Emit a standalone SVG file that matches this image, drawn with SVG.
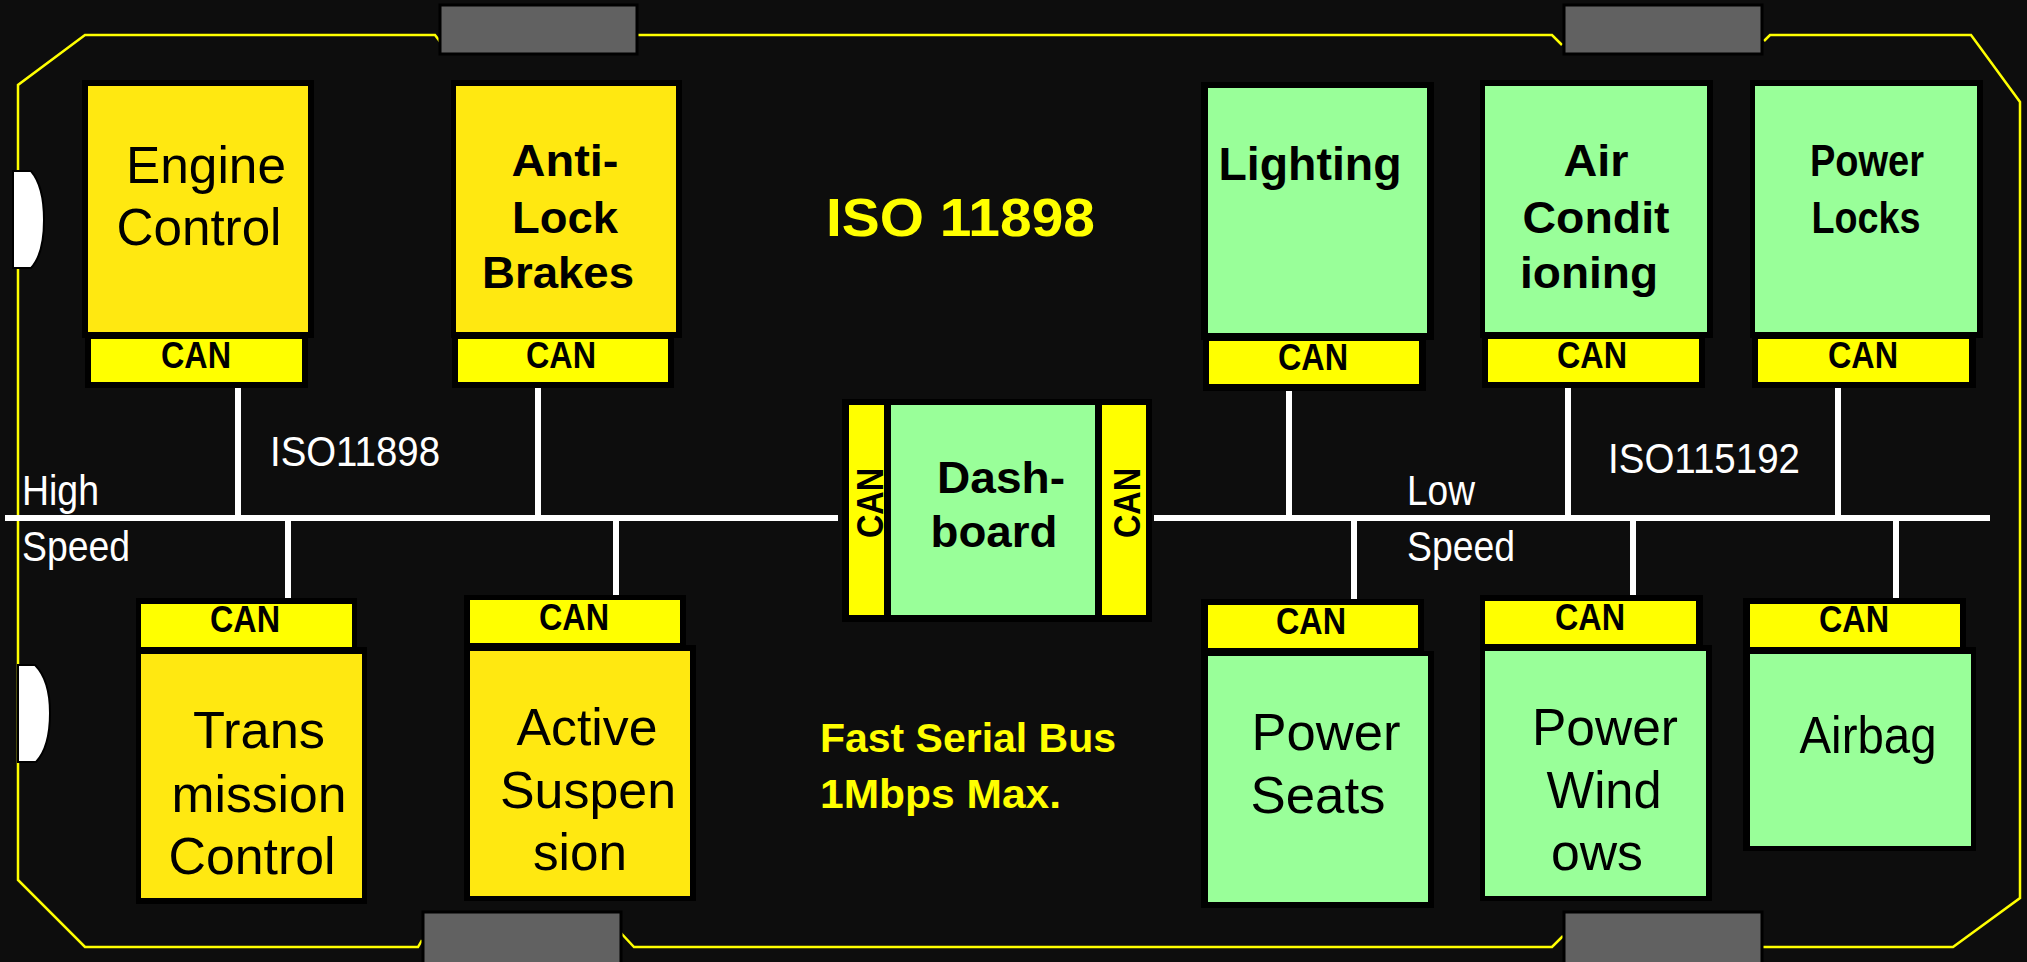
<svg xmlns="http://www.w3.org/2000/svg" width="2027" height="962" viewBox="0 0 2027 962">
<style>
.blk{fill:#000}
.yb{fill:#FFE811}
.gb{fill:#99FF99}
.can{fill:#FFFF00}
.t{font-family:"Liberation Sans",Arial,sans-serif;fill:#000;text-anchor:middle}
.b{font-weight:bold}
.r{font-size:52px}
.bt{font-size:45px}
.ct{font-family:"Liberation Sans",Arial,sans-serif;font-weight:bold;font-size:36px;fill:#000;text-anchor:middle}
.w{font-family:"Liberation Sans",Arial,sans-serif;fill:#fff;font-size:42px}
.y{font-family:"Liberation Sans",Arial,sans-serif;fill:#FFFF00;font-weight:bold}
.wire{stroke:#fff;stroke-width:6;fill:none}
.wheel{fill:#616161;stroke:#000;stroke-width:3}
.lamp{fill:#fff;stroke:#000;stroke-width:2}
</style>
<rect x="0" y="0" width="2027" height="962" fill="#0d0d0d"/>
<g id="car">
<path d="M441,43 L435,35 L85,35 L18,85 L18,880 L85,947 L418,947 L422,940 M620,932 L634,947 L1552,947 L1563,936 M1763,947 L1953,947 L2020,898 L2020,102 L1971,35 L1770,35 L1764,41 M1562,45 L1552,35 L638,35" fill="none" stroke="#FFFF00" stroke-width="2.5"/>
<rect class="wheel" x="440" y="5" width="197" height="49"/>
<rect class="wheel" x="1564" y="5" width="198" height="49"/>
<rect class="wheel" x="423" y="912" width="198" height="55"/>
<rect class="wheel" x="1564" y="912" width="198" height="55"/>
<path class="lamp" d="M13,171 L31,171 Q44,186 44,220 Q44,254 31,268 L13,268 Z"/>
<path class="lamp" d="M18,665 L35,665 Q50,680 50,713 Q50,747 36,762 L18,762 Z"/>
</g>
<g id="connectors">
<line class="wire" x1="5" y1="518" x2="838" y2="518"/>
<line class="wire" x1="1154" y1="518" x2="1990" y2="518"/>
<line class="wire" x1="238" y1="386" x2="238" y2="518"/>
<line class="wire" x1="538" y1="386" x2="538" y2="518"/>
<line class="wire" x1="1289" y1="388" x2="1289" y2="518"/>
<line class="wire" x1="1568" y1="386" x2="1568" y2="518"/>
<line class="wire" x1="1838" y1="386" x2="1838" y2="518"/>
<line class="wire" x1="288" y1="518" x2="288" y2="600"/>
<line class="wire" x1="616" y1="518" x2="616" y2="597"/>
<line class="wire" x1="1354" y1="518" x2="1354" y2="601"/>
<line class="wire" x1="1633" y1="518" x2="1633" y2="597"/>
<line class="wire" x1="1896" y1="518" x2="1896" y2="600"/>
</g>
<g id="labels">
<text class="y" x="826" y="236" font-size="54" textLength="269" lengthAdjust="spacingAndGlyphs">ISO 11898</text>
<text class="w" x="270" y="466" textLength="170" lengthAdjust="spacingAndGlyphs">ISO11898</text>
<text class="w" x="1608" y="473" textLength="192" lengthAdjust="spacingAndGlyphs">ISO115192</text>
<text class="w" x="22" y="505" font-size="40" textLength="77" lengthAdjust="spacingAndGlyphs">High</text>
<text class="w" x="22" y="561" font-size="40" textLength="108" lengthAdjust="spacingAndGlyphs">Speed</text>
<text class="w" x="1407" y="505" font-size="40" textLength="68" lengthAdjust="spacingAndGlyphs">Low</text>
<text class="w" x="1407" y="561" font-size="40" textLength="108" lengthAdjust="spacingAndGlyphs">Speed</text>
<text class="y" x="820" y="752" font-size="41" textLength="296" lengthAdjust="spacingAndGlyphs">Fast Serial Bus</text>
<text class="y" x="820" y="808" font-size="41" textLength="241" lengthAdjust="spacingAndGlyphs">1Mbps Max.</text>
</g>
<g id="engine-control">
<rect class="blk" x="82" y="80" width="232" height="258"/>
<rect class="yb" x="88" y="86" width="220" height="246"/>
<rect class="blk" x="85" y="335" width="223" height="53"/>
<rect class="can" x="91" y="339" width="211" height="43"/>
<text class="ct" x="196" y="368" textLength="70" lengthAdjust="spacingAndGlyphs">CAN</text>
<text class="t r" x="206" y="183" textLength="160" lengthAdjust="spacingAndGlyphs">Engine</text>
<text class="t r" x="199" y="245" textLength="165" lengthAdjust="spacingAndGlyphs">Control</text>
</g>
<g id="anti-lock-brakes">
<rect class="blk" x="451" y="80" width="231" height="258"/>
<rect class="yb" x="456" y="86" width="220" height="246"/>
<rect class="blk" x="452" y="335" width="222" height="53"/>
<rect class="can" x="458" y="339" width="210" height="43"/>
<text class="ct" x="561" y="368" textLength="70" lengthAdjust="spacingAndGlyphs">CAN</text>
<text class="t b bt" x="565" y="176" textLength="107" lengthAdjust="spacingAndGlyphs">Anti-</text>
<text class="t b bt" x="565" y="233" textLength="106" lengthAdjust="spacingAndGlyphs">Lock</text>
<text class="t b bt" x="558" y="288" textLength="152" lengthAdjust="spacingAndGlyphs">Brakes</text>
</g>
<g id="lighting">
<rect class="blk" x="1201" y="82" width="233" height="258"/>
<rect class="gb" x="1208" y="88" width="219" height="245"/>
<rect class="blk" x="1203" y="336" width="223" height="55"/>
<rect class="can" x="1209" y="341" width="210" height="43"/>
<text class="ct" x="1313" y="370" textLength="70" lengthAdjust="spacingAndGlyphs">CAN</text>
<text class="t b" x="1310" y="180" font-size="46" textLength="183" lengthAdjust="spacingAndGlyphs">Lighting</text>
</g>
<g id="air-conditioning">
<rect class="blk" x="1480" y="80" width="233" height="258"/>
<rect class="gb" x="1485" y="86" width="222" height="246"/>
<rect class="blk" x="1482" y="335" width="223" height="53"/>
<rect class="can" x="1488" y="339" width="211" height="43"/>
<text class="ct" x="1592" y="368" textLength="70" lengthAdjust="spacingAndGlyphs">CAN</text>
<text class="t b bt" x="1596" y="176" textLength="65" lengthAdjust="spacingAndGlyphs">Air</text>
<text class="t b bt" x="1596" y="233" textLength="147" lengthAdjust="spacingAndGlyphs">Condit</text>
<text class="t b bt" x="1589" y="288" textLength="138" lengthAdjust="spacingAndGlyphs">ioning</text>
</g>
<g id="power-locks">
<rect class="blk" x="1750" y="80" width="233" height="258"/>
<rect class="gb" x="1755" y="86" width="222" height="246"/>
<rect class="blk" x="1752" y="335" width="224" height="53"/>
<rect class="can" x="1758" y="339" width="211" height="43"/>
<text class="ct" x="1863" y="368" textLength="70" lengthAdjust="spacingAndGlyphs">CAN</text>
<text class="t b" x="1867" y="176" font-size="44" textLength="114" lengthAdjust="spacingAndGlyphs">Power</text>
<text class="t b" x="1866" y="233" font-size="44" textLength="109" lengthAdjust="spacingAndGlyphs">Locks</text>
</g>
<g id="dashboard">
<rect class="blk" x="842" y="399" width="310" height="223"/>
<rect class="can" x="849" y="405" width="35" height="210"/>
<rect class="gb" x="891" y="405" width="204" height="210"/>
<rect class="can" x="1102" y="405" width="44" height="210"/>
<text class="ct" transform="translate(883,503) rotate(-90)" x="0" y="0" font-size="38" textLength="70" lengthAdjust="spacingAndGlyphs">CAN</text>
<text class="ct" transform="translate(1140,503) rotate(-90)" x="0" y="0" font-size="38" textLength="70" lengthAdjust="spacingAndGlyphs">CAN</text>
<text class="t b bt" x="1001" y="493" textLength="128" lengthAdjust="spacingAndGlyphs">Dash-</text>
<text class="t b bt" x="994" y="547" textLength="127" lengthAdjust="spacingAndGlyphs">board</text>
</g>
<g id="transmission-control">
<rect class="blk" x="136" y="598" width="221" height="52"/>
<rect class="can" x="141" y="604" width="211" height="43"/>
<rect class="blk" x="136" y="647" width="231" height="257"/>
<rect class="yb" x="141" y="654" width="221" height="244"/>
<text class="ct" x="245" y="632" textLength="70" lengthAdjust="spacingAndGlyphs">CAN</text>
<text class="t r" x="259" y="748" textLength="132" lengthAdjust="spacingAndGlyphs">Trans</text>
<text class="t r" x="259" y="812" textLength="175" lengthAdjust="spacingAndGlyphs">mission</text>
<text class="t r" x="252" y="874" textLength="167" lengthAdjust="spacingAndGlyphs">Control</text>
</g>
<g id="active-suspension">
<rect class="blk" x="464" y="595" width="222" height="50"/>
<rect class="can" x="470" y="600" width="210" height="43"/>
<rect class="blk" x="464" y="645" width="232" height="256"/>
<rect class="yb" x="470" y="651" width="220" height="245"/>
<text class="ct" x="574" y="630" textLength="70" lengthAdjust="spacingAndGlyphs">CAN</text>
<text class="t r" x="587" y="745" textLength="141" lengthAdjust="spacingAndGlyphs">Active</text>
<text class="t r" x="588" y="808" textLength="176" lengthAdjust="spacingAndGlyphs">Suspen</text>
<text class="t r" x="580" y="870" textLength="94" lengthAdjust="spacingAndGlyphs">sion</text>
</g>
<g id="power-seats">
<rect class="blk" x="1201" y="599" width="223" height="52"/>
<rect class="can" x="1208" y="605" width="210" height="43"/>
<rect class="blk" x="1201" y="651" width="233" height="257"/>
<rect class="gb" x="1208" y="656" width="220" height="246"/>
<text class="ct" x="1311" y="634" textLength="70" lengthAdjust="spacingAndGlyphs">CAN</text>
<text class="t r" x="1326" y="750" textLength="149" lengthAdjust="spacingAndGlyphs">Power</text>
<text class="t r" x="1318" y="813" textLength="135" lengthAdjust="spacingAndGlyphs">Seats</text>
</g>
<g id="power-windows">
<rect class="blk" x="1480" y="595" width="223" height="52"/>
<rect class="can" x="1485" y="601" width="211" height="43"/>
<rect class="blk" x="1480" y="645" width="232" height="256"/>
<rect class="gb" x="1485" y="651" width="221" height="245"/>
<text class="ct" x="1590" y="630" textLength="70" lengthAdjust="spacingAndGlyphs">CAN</text>
<text class="t r" x="1605" y="745" textLength="146" lengthAdjust="spacingAndGlyphs">Power</text>
<text class="t r" x="1604" y="808" textLength="115" lengthAdjust="spacingAndGlyphs">Wind</text>
<text class="t r" x="1597" y="870" textLength="92" lengthAdjust="spacingAndGlyphs">ows</text>
</g>
<g id="airbag">
<rect class="blk" x="1743" y="598" width="223" height="52"/>
<rect class="can" x="1750" y="604" width="210" height="43"/>
<rect class="blk" x="1743" y="647" width="233" height="204"/>
<rect class="gb" x="1750" y="654" width="221" height="192"/>
<text class="ct" x="1854" y="632" textLength="70" lengthAdjust="spacingAndGlyphs">CAN</text>
<text class="t r" x="1868" y="753" textLength="137" lengthAdjust="spacingAndGlyphs">Airbag</text>
</g>
</svg>
